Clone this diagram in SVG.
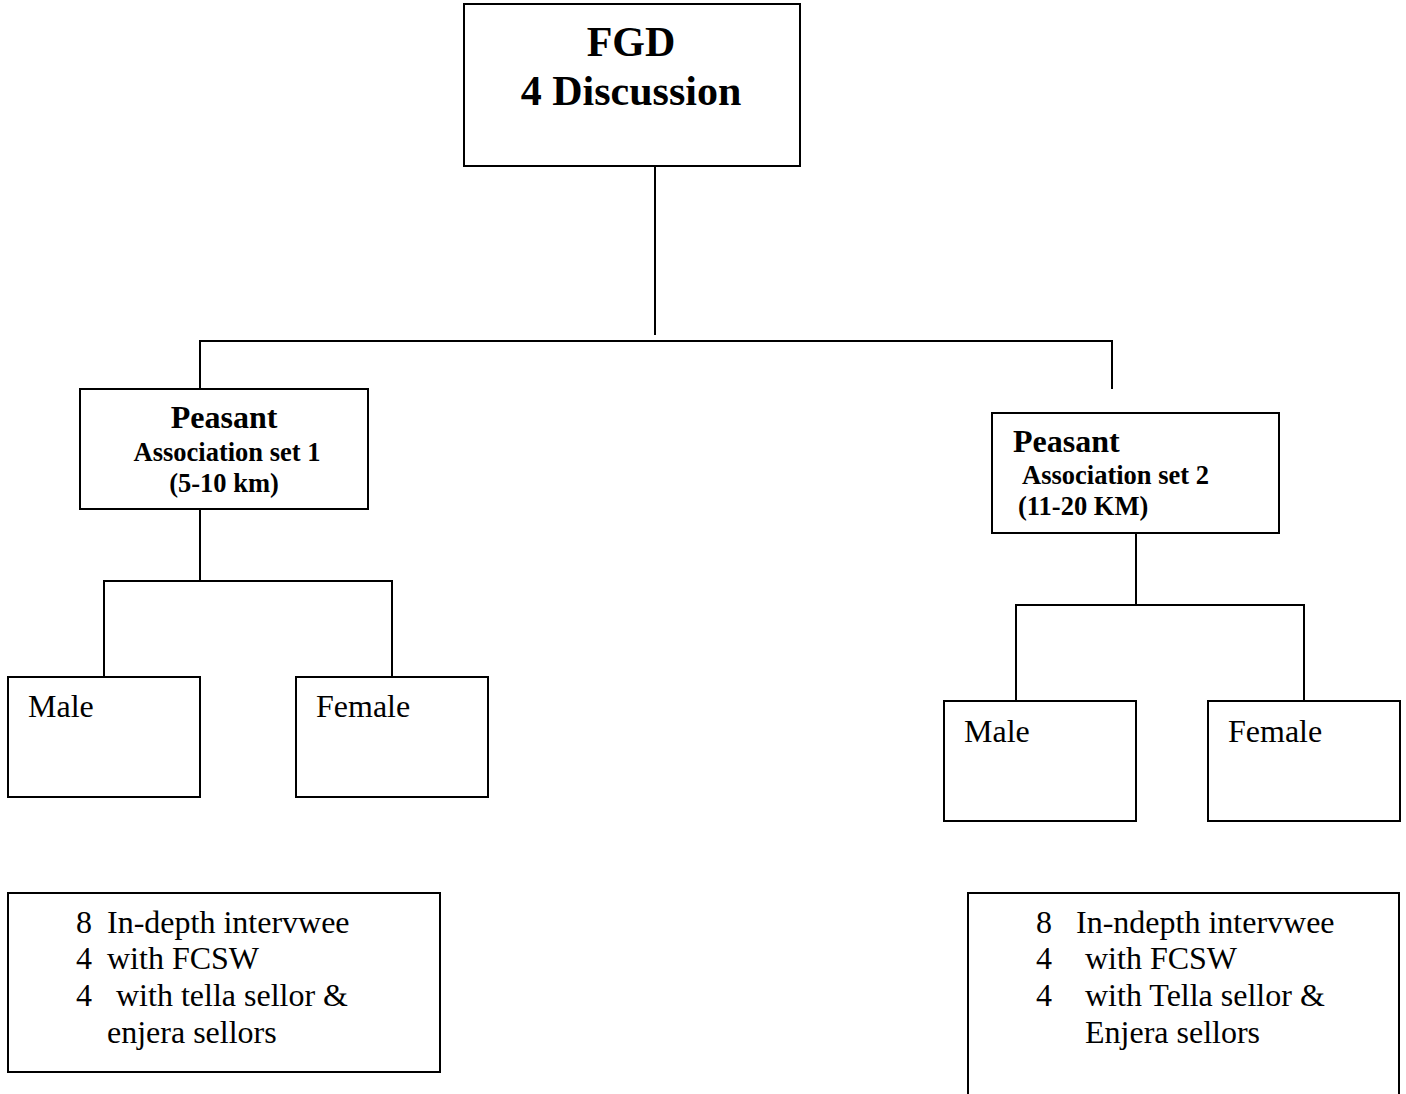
<svg xmlns="http://www.w3.org/2000/svg" width="1406" height="1094" viewBox="0 0 1406 1094">
<style>
.box{fill:#fff;stroke:#000;stroke-width:2}
.ln{fill:none;stroke:#000;stroke-width:2}
text{font-family:"Liberation Serif","Times New Roman",serif;fill:#000}
.b{font-weight:bold}
.t1{font-size:42px}
.t2{font-size:32px}
.t3{font-size:26.5px}
.r{font-size:32px}
</style>
<rect width="1406" height="1094" fill="#fff"/>
<g id="connectors">
<path class="ln" d="M655,166 V335"/>
<path class="ln" d="M200,389 V341 H1112 V389"/>
<path class="ln" d="M200,509 V581"/>
<path class="ln" d="M104,677 V581 H392 V677"/>
<path class="ln" d="M1136,533 V605"/>
<path class="ln" d="M1016,701 V605 H1304 V701"/>
</g>
<g id="fgd">
<rect class="box" x="464" y="4" width="336" height="162"/>
<text class="b t1" x="631" y="56" text-anchor="middle">FGD</text>
<text class="b t1" x="631" y="105" text-anchor="middle">4 Discussion</text>
</g>
<g id="pa1">
<rect class="box" x="80" y="389" width="288" height="120"/>
<text class="b t2" x="224" y="428" text-anchor="middle">Peasant</text>
<text class="b t3" x="227" y="461" text-anchor="middle">Association set 1</text>
<text class="b t3" x="224" y="492" text-anchor="middle">(5-10 km)</text>
</g>
<g id="pa2">
<rect class="box" x="992" y="413" width="287" height="120"/>
<text class="b t2" x="1013" y="452">Peasant</text>
<text class="b t3" x="1022" y="484">Association set 2</text>
<text class="b t3" x="1018" y="515">(11-20 KM)</text>
</g>
<g id="male1">
<rect class="box" x="8" y="677" width="192" height="120"/>
<text class="r" x="28" y="717">Male</text>
</g>
<g id="female1">
<rect class="box" x="296" y="677" width="192" height="120"/>
<text class="r" x="316" y="717">Female</text>
</g>
<g id="male2">
<rect class="box" x="944" y="701" width="192" height="120"/>
<text class="r" x="964" y="742">Male</text>
</g>
<g id="female2">
<rect class="box" x="1208" y="701" width="192" height="120"/>
<text class="r" x="1228" y="742">Female</text>
</g>
<g id="interviews1">
<rect class="box" x="8" y="893" width="432" height="179"/>
<text class="r" x="76" y="933">8</text><text class="r" x="107" y="933">In-depth intervwee</text>
<text class="r" x="76" y="969">4</text><text class="r" x="107" y="969">with FCSW</text>
<text class="r" x="76" y="1006">4</text><text class="r" x="116" y="1006">with tella sellor &amp;</text>
<text class="r" x="107" y="1043">enjera sellors</text>
</g>
<g id="interviews2">
<rect class="box" x="968" y="893" width="431" height="230"/>
<text class="r" x="1036" y="933">8</text><text class="r" x="1076" y="933">In-ndepth intervwee</text>
<text class="r" x="1036" y="969">4</text><text class="r" x="1085" y="969">with FCSW</text>
<text class="r" x="1036" y="1006">4</text><text class="r" x="1085" y="1006">with Tella sellor &amp;</text>
<text class="r" x="1085" y="1043">Enjera sellors</text>
</g>
</svg>
